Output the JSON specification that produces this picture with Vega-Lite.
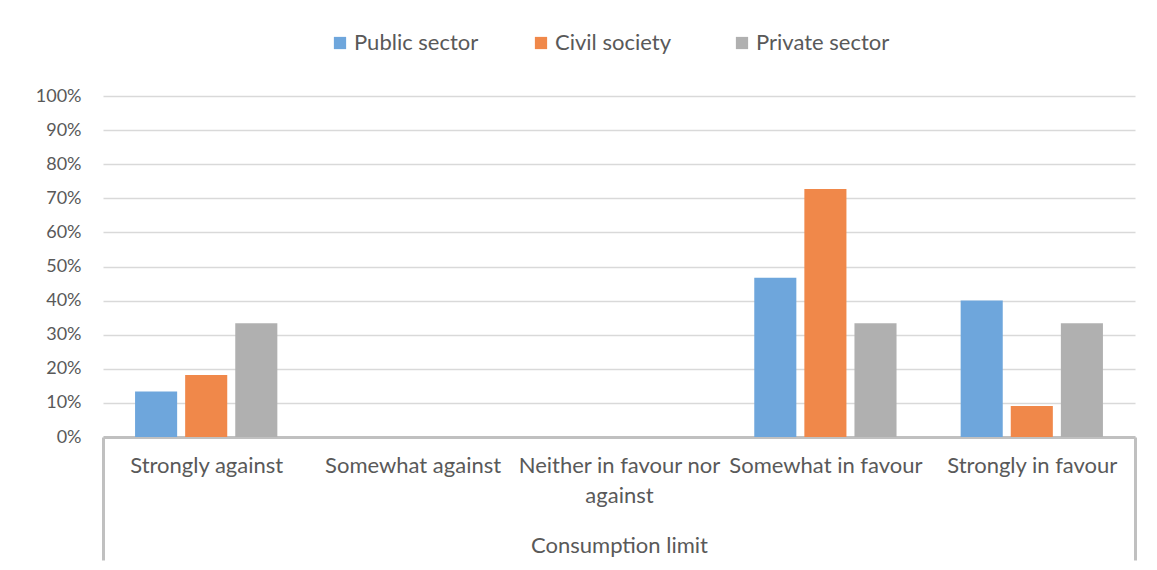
{
  "$schema": "https://vega.github.io/schema/vega-lite/v6.json",
  "autosize": {"type": "none"},
  "padding": {"left": 103, "top": 96, "right": 22, "bottom": 133},
  "width": 1032,
  "height": 341,
  "background": "white",
  "config": {
    "font": "Lato",
    "view": {"stroke": null}
  },
  "data": {
    "values": [
      {"category": "Strongly against", "sector": "Public sector", "value": 0.1333},
      {"category": "Strongly against", "sector": "Civil society", "value": 0.1818},
      {"category": "Strongly against", "sector": "Private sector", "value": 0.3333},
      {"category": "Somewhat against", "sector": "Public sector", "value": 0},
      {"category": "Somewhat against", "sector": "Civil society", "value": 0},
      {"category": "Somewhat against", "sector": "Private sector", "value": 0},
      {"category": "Neither in favour nor against", "sector": "Public sector", "value": 0},
      {"category": "Neither in favour nor against", "sector": "Civil society", "value": 0},
      {"category": "Neither in favour nor against", "sector": "Private sector", "value": 0},
      {"category": "Somewhat in favour", "sector": "Public sector", "value": 0.4667},
      {"category": "Somewhat in favour", "sector": "Civil society", "value": 0.7273},
      {"category": "Somewhat in favour", "sector": "Private sector", "value": 0.3333},
      {"category": "Strongly in favour", "sector": "Public sector", "value": 0.4},
      {"category": "Strongly in favour", "sector": "Civil society", "value": 0.0909},
      {"category": "Strongly in favour", "sector": "Private sector", "value": 0.3333}
    ]
  },
  "mark": {"type": "bar", "strokeWidth": 0},
  "encoding": {
    "x": {
      "field": "category",
      "type": "nominal",
      "sort": ["Strongly against", "Somewhat against", "Neither in favour nor against", "Somewhat in favour", "Strongly in favour"],
      "scale": {"paddingInner": 0, "paddingOuter": 0},
      "axis": {
        "title": "Consumption limit",
        "titleFontSize": 22,
        "titleFontWeight": "normal",
        "titleColor": "#595959",
        "titleBaseline": "middle",
        "titleY": 108,
        "labelAngle": 0,
        "labelFontSize": 22,
        "labelColor": "#595959",
        "labelPadding": -105,
        "labelLimit": 400,
        "labelLineHeight": 30,
        "labelBaseline": "top",
        "labelExpr": "datum.value == 'Neither in favour nor against' ? ['Neither in favour nor', 'against'] : datum.value",
        "domainColor": "#c0c0c0",
        "domainWidth": 3,
        "tickBand": "extent",
        "tickSize": 123,
        "tickWidth": 3,
        "tickColor": "#c0c0c0",
        "tickOpacity": {"condition": {"test": "datum.extra || datum.value == 'Strongly in favour'", "value": 1}, "value": 0},
        "grid": false
      }
    },
    "xOffset": {
      "field": "sector",
      "type": "nominal",
      "sort": ["Public sector", "Civil society", "Private sector"],
      "scale": {"paddingInner": 0.16, "paddingOuter": 0.64}
    },
    "y": {
      "field": "value",
      "type": "quantitative",
      "scale": {"domain": [0, 1], "nice": false},
      "axis": {
        "title": null,
        "values": [0, 0.1, 0.2, 0.3, 0.4, 0.5, 0.6, 0.7, 0.8, 0.9, 1],
        "format": ".0%",
        "labelFontSize": 18,
        "labelColor": "#595959",
        "labelPadding": 22,
        "ticks": false,
        "domain": false,
        "gridColor": "#d9d9d9",
        "gridWidth": 1.5
      }
    },
    "color": {
      "field": "sector",
      "type": "nominal",
      "sort": ["Public sector", "Civil society", "Private sector"],
      "scale": {
        "domain": ["Public sector", "Civil society", "Private sector"],
        "range": ["#6ea6dc", "#f0884a", "#b0b0b0"]
      },
      "legend": {
        "title": null,
        "orient": "none",
        "direction": "horizontal",
        "columns": 3,
        "gridAlign": "all",
        "legendX": 226,
        "legendY": -64,
        "symbolType": "square",
        "symbolSize": 150,
        "symbolStrokeWidth": 0,
        "labelFontSize": 22,
        "labelColor": "#595959",
        "labelOffset": 3,
        "columnPadding": 42
      }
    }
  }
}
